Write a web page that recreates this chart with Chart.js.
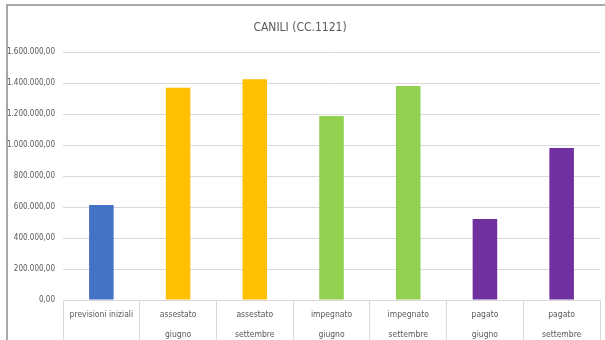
<!DOCTYPE html>
<html>
<head>
<meta charset="utf-8">
<script src="https://cdn.jsdelivr.net/npm/chart.js@4"></script>
<style>
  html, body { margin: 0; padding: 0; background: #fff; }
  #wrap { position: relative; width: 605px; height: 340px; }
</style>
</head>
<body>
<div id="wrap"><canvas id="chart" width="605" height="340"></canvas></div>
<script>
const categories = [
    'previsioni iniziali',
    ['assestato', 'giugno'],
    ['assestato', 'settembre'],
    ['impegnato', 'giugno'],
    ['impegnato', 'settembre'],
    ['pagato', 'giugno'],
    ['pagato', 'settembre'],
];
const values = [614000, 1372000, 1426000, 1189000, 1383000, 523000, 982000];
const barColors = ['#4472C4', '#FFC000', '#FFC000', '#92D050', '#92D050', '#7030A0', '#7030A0'];
const yTickLabels = ['0,00', '200.000,00', '400.000,00', '600.000,00', '800.000,00',
    '1.000.000,00', '1.200.000,00', '1.400.000,00', '1.600.000,00'];

const font = 'Liberation Sans Narrow, DejaVu Sans Condensed, sans-serif';
const grey = '#595959';
const gridColor = '#d9d9d9';

// outer frame of the chart (left and top edge only, as in the picture)
const framePlugin = {
    id: 'frame',
    beforeDraw(chart) {
        const c = chart.ctx;
        c.save();
        c.strokeStyle = '#8c8c8c';
        c.lineWidth = 1.5;
        c.beginPath();
        c.moveTo(7, 340);
        c.lineTo(7, 5);
        c.lineTo(605, 5);
        c.stroke();
        c.restore();
    },
};

new Chart(document.getElementById('chart'), {
    type: 'bar',
    data: {
        labels: categories,
        datasets: [{
            data: values,
            backgroundColor: barColors,
            barPercentage: 0.32,
            categoryPercentage: 1,
        }],
    },
    options: {
        responsive: false,
        animation: false,
        layout: { padding: { left: 0, right: 5, top: 0, bottom: 0 } },
        plugins: {
            legend: { display: false },
            tooltip: { enabled: false },
            title: {
                display: true,
                text: 'CANILI (CC.1121)',
                color: grey,
                font: { family: font, size: 12, weight: 'normal' },
                padding: { top: 21, bottom: 17 },
            },
        },
        scales: {
            x: {
                grid: { display: true, drawOnChartArea: false, color: gridColor, tickLength: 40 },
                border: { display: false },
                ticks: {
                    color: grey,
                    font: { family: font, size: 8.5, lineHeight: 2.35 },
                    padding: -35,
                    maxRotation: 0,
                    autoSkip: false,
                },
                afterFit(scale) { scale.height = 40; },
            },
            y: {
                min: 0,
                max: 1600000,
                grid: { color: gridColor, lineWidth: 1, tickLength: 0 },
                border: { display: false },
                ticks: {
                    stepSize: 200000,
                    color: grey,
                    padding: 8,
                    font: { family: font, size: 8 },
                    callback: (v) => yTickLabels[Math.round(v / 200000)],
                },
                afterFit(scale) { scale.width = 63; },
            },
        },
    },
    plugins: [framePlugin],
});
</script>
</body>
</html>
